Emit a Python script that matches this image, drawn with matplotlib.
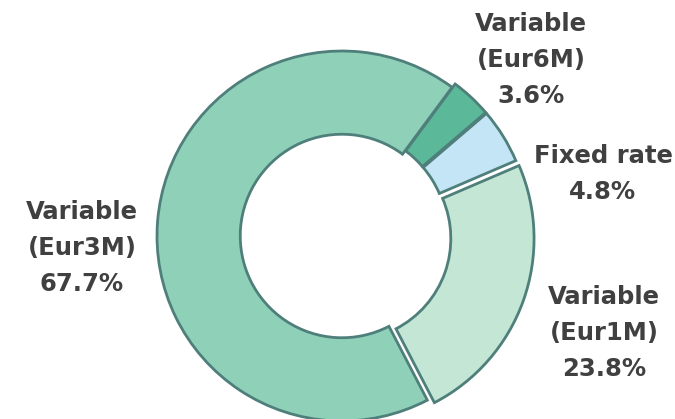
import matplotlib
matplotlib.use("Agg")
import matplotlib.pyplot as plt

# debt split by interest rate type
labels = ["Variable\n(Eur6M)", "Fixed rate", "Variable\n(Eur1M)", "Variable\n(Eur3M)"]
shares = [3.6, 4.8, 23.8, 67.7]
colors = ["#5bb898", "#c3e5f5", "#c3e6d5", "#8fd0b8"]
explode = [4.5, 4.5, 7.5, 0.0]  # pixel offsets (pie does not scale explode by radius)

# where the labels sit (pixels, from top-left)
label_pos = [(531, 60), (603, 174), (604, 333), (82, 248)]

W, H = 675, 419
fig = plt.figure(figsize=(W / 100, H / 100), dpi=100)
ax = fig.add_axes([0, 0, 1, 1])

cx, cy, r = 342, H - 236, 185
ax.pie(shares, colors=colors, explode=explode, startangle=53.5, counterclock=False,
       center=(cx, cy), radius=r, frame=True,
       wedgeprops=dict(width=r * 0.45, edgecolor="#4f7f7b", linewidth=2))
ax.set_xlim(0, W)
ax.set_ylim(0, H)
ax.set_aspect("equal")
ax.axis("off")

for lab, val, (x, y) in zip(labels, shares, label_pos):
    ax.text(x, H - y, f"{lab}\n{val:.1f}%", ha="center", va="center",
            fontsize=17.5, fontweight="bold", color="#404040", linespacing=1.62)

fig.savefig("out.png", dpi=100)
